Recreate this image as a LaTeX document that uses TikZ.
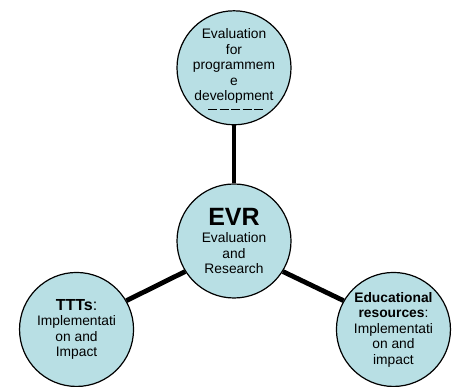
\documentclass[tikz,border=0pt]{standalone}
\usepackage{fontspec}
\setmainfont{Liberation Sans}
\usepackage{xcolor}
\usetikzlibrary{positioning,backgrounds}
\definecolor{hubfill}{RGB}{184,223,228}

\begin{document}
\begin{tikzpicture}[
    node distance=58pt and 76pt,
    hub/.style={circle, draw, fill=hubfill, minimum size=114pt, inner sep=0pt,
                align=center, line width=1.2pt, font=\fontsize{13.8}{15.5}\selectfont},
    link/.style={line width=4.8pt},
    dashrule/.style={line width=1pt, dash pattern=on 9pt off 2.5pt},
]
\useasboundingbox (-234pt,-146pt) rectangle (220pt,241pt);

% Central hub
\node[hub] (evr) {{\fontsize{25}{27}\selectfont\bfseries EVR}\\[2pt]Evaluation\\and\\Research};

% Satellites
\node[hub, above=of evr] (prog) {Evaluation\\for\\programmem\\e\\development\\[-9.5pt]};
\node[hub, below left=7pt and 76pt of evr] (ttt)
    {{\fontsize{16}{18}\selectfont\textbf{TTTs}:}\\Implementati\\on and\\Impact};
\node[hub, below right=7pt and 78pt of evr] (edu)
    {\textbf{Educational}\\\textbf{resources}:\\Implementati\\on and\\impact};

% dashed rule under the top label
\draw[dashrule] ([xshift=-26pt,yshift=-42pt]prog.center) -- ++(55pt,0);

% Spokes
\begin{scope}[on background layer]
  \draw[link] (prog) -- (evr);
  \draw[link] (ttt.30) -- (evr.212);
  \draw[link] (evr.-32) -- (edu.150);
\end{scope}
\end{tikzpicture}
\end{document}
